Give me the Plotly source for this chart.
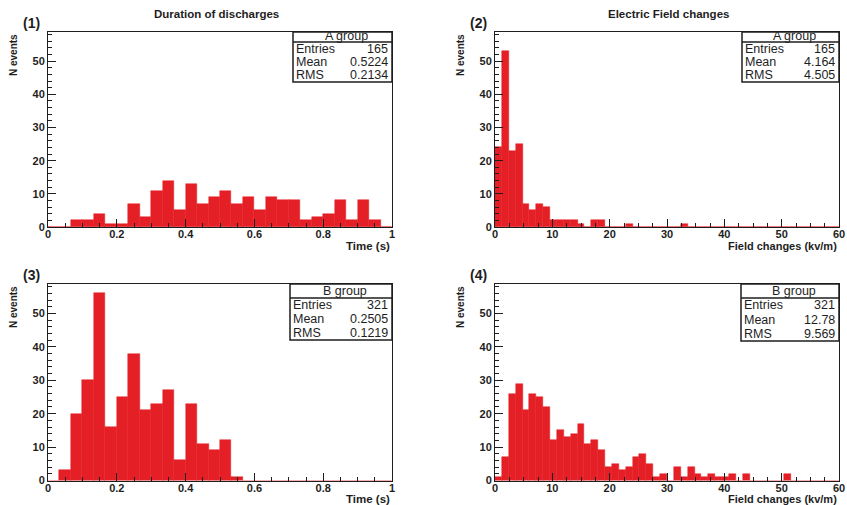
import plotly.graph_objects as go

# ---------------- data ----------------
time_lo, time_hi, time_nbins = 0.0, 1.0, 30
field_lo, field_hi, field_nbins = 0.0, 60.0, 50

duration_A = [0, 0, 2, 2, 4, 1, 1, 7, 3, 11, 14, 5, 13, 7, 9, 11, 7, 9, 5, 9,
              8, 8, 2, 3, 4, 8, 2, 8, 2, 0]
duration_B = [0, 3, 20, 30, 56, 16, 25, 38, 21, 23, 27, 6, 23, 11, 9, 12, 1, 0, 0, 0,
              0, 0, 0, 0, 0, 0, 0, 0, 0, 0]
field_A = [24, 53, 23, 25, 7, 5, 7, 6, 2, 2, 2, 2, 1, 0, 2, 2, 0, 0, 0, 1,
           0, 0, 0, 0, 0, 0, 0, 1, 0, 0, 0, 0, 0, 0, 0, 0, 0, 0, 0, 0,
           0, 0, 0, 0, 0, 0, 0, 0, 0, 0]
field_B = [1, 7, 26, 29, 21, 26, 25, 22, 12, 15, 13, 14, 17, 11, 12, 9, 4, 5, 3, 4,
           7, 8, 5, 1, 2, 0, 4, 1, 4, 2, 1, 2, 1, 1, 2, 0, 2, 0, 0, 0,
           0, 0, 2, 0, 0, 0, 0, 0, 0, 0]

stats_groups = ["A group", "A group", "B group", "B group"]
stats_entries = ["165", "165", "321", "321"]
stats_mean = ["0.5224", "4.164", "0.2505", "12.78"]
stats_rms = ["0.2134", "4.505", "0.1219", "9.569"]
panel_labels = ["(1)", "(2)", "(3)", "(4)"]
col_titles = ["Duration of discharges", "Electric Field changes"]
x_titles = ["Time (s)", "Field changes (kv/m)"]
y_title = "N events"
y_max = 58.8

# ---------------- layout helpers ----------------
W, H = 847, 505
RED = "#e41f26"
INK = "#1e1e1e"
FONT = "Liberation Sans"


def px(x):
    return x / W


def py(y):
    return 1 - y / H


# plot area pixel boxes: (left, right, top, bottom)
boxes = [(48, 392, 32, 227), (495, 839, 32, 227),
         (48, 392, 284, 480.5), (495, 839, 284, 480.5)]
# stats boxes: (left, right, top, header_line, bottom)
sboxes = [(293, 392, 32, 42, 82), (742, 839, 32, 42, 82),
          (290, 392, 284, 298, 340), (741, 839, 284, 298, 341)]

panels = [
    (duration_A, time_lo, time_hi, time_nbins, 0.2, 0.05),
    (field_A, field_lo, field_hi, field_nbins, 10, 2.5),
    (duration_B, time_lo, time_hi, time_nbins, 0.2, 0.05),
    (field_B, field_lo, field_hi, field_nbins, 10, 2.5),
]

fig = go.Figure()
layout = dict(
    width=W, height=H, margin=dict(l=0, r=0, t=0, b=0, autoexpand=False),
    paper_bgcolor="white", plot_bgcolor="white", showlegend=False,
    font=dict(family=FONT, color=INK),
)
annotations = []
shapes = []

for k, (counts, lo, hi, nb, dt, mdt) in enumerate(panels):
    bw = (hi - lo) / nb
    centers = [lo + (i + 0.5) * bw for i in range(nb)]
    sfx = "" if k == 0 else str(k + 1)
    fig.add_trace(go.Bar(
        x=centers, y=counts, width=bw,
        marker=dict(color=RED, line=dict(color=RED, width=0.5)),
        xaxis="x" + sfx, yaxis="y" + sfx, hoverinfo="x+y",
    ))
    l, r, t, b = boxes[k]
    tickfont = dict(family=FONT, size=11, color=INK, weight="bold")
    common = dict(
        showline=True, mirror=True, linecolor=INK, linewidth=1,
        ticks="inside", ticklen=8, tickcolor=INK, tickwidth=1,
        showgrid=False, zeroline=False, automargin=False,
        tickfont=tickfont, layer="above traces",
    )
    layout["xaxis" + sfx] = dict(
        domain=[px(l), px(r)], anchor="y" + sfx, range=[lo, hi],
        dtick=dt, tick0=lo, ticklabelstandoff=-3,
        minor=dict(dtick=mdt, ticks="inside", ticklen=4, tickcolor=INK, showgrid=False),
        **common,
    )
    layout["yaxis" + sfx] = dict(
        domain=[py(b), py(t)], anchor="x" + sfx, range=[0, y_max],
        dtick=10, tick0=0, ticklabelstandoff=0,
        minor=dict(dtick=2, ticks="inside", ticklen=4, tickcolor=INK, showgrid=False),
        **common,
    )

    col = k % 2
    # panel label
    annotations.append(dict(
        x=px(l - 27), y=py(t - 9), xref="paper", yref="paper",
        text=panel_labels[k], showarrow=False, xanchor="left", yanchor="middle",
        font=dict(family=FONT, size=14, color=INK, weight="bold"),
    ))
    # y title
    annotations.append(dict(
        x=px(l - 35), y=py(t), xref="paper", yref="paper", text=y_title,
        textangle=-90, showarrow=False, xanchor="center", yanchor="top",
        font=dict(family=FONT, size=10, color=INK, weight="bold"),
    ))
    # x title
    annotations.append(dict(
        x=px(r), y=py(b + 18.5), xref="paper", yref="paper", text=x_titles[col],
        showarrow=False, xanchor="right", yanchor="middle",
        font=dict(family=FONT, size=11.5 if col == 0 else 11, color=INK, weight="bold"),
    ))
    # stats box
    sl, sr, st, sh, sb = sboxes[k]
    shapes.append(dict(type="rect", xref="paper", yref="paper",
                       x0=px(sl), x1=px(sr), y0=py(sb), y1=py(st),
                       line=dict(color=INK, width=1.5), fillcolor="white", layer="above"))
    shapes.append(dict(type="line", xref="paper", yref="paper",
                       x0=px(sl), x1=px(sr), y0=py(sh), y1=py(sh),
                       line=dict(color=INK, width=1.5), layer="above"))
    sfont = dict(family=FONT, size=12.5, color=INK)
    annotations.append(dict(
        x=px((sl + sr) / 2 + 4), y=py((st + sh) / 2 - 0.5), xref="paper", yref="paper",
        text=stats_groups[k], showarrow=False, xanchor="center", yanchor="middle",
        font=sfont,
    ))
    row_h = (sb - sh) / 3
    for j, (lab, val) in enumerate([("Entries", stats_entries[k]),
                                    ("Mean", stats_mean[k]),
                                    ("RMS", stats_rms[k])]):
        yc = sh + row_h * (j + 0.5)
        annotations.append(dict(
            x=px(sl + 1), y=py(yc), xref="paper", yref="paper", text=lab,
            showarrow=False, xanchor="left", yanchor="middle", font=sfont,
        ))
        annotations.append(dict(
            x=px(sr - 2), y=py(yc), xref="paper", yref="paper", text=val,
            showarrow=False, xanchor="right", yanchor="middle", font=sfont,
        ))

# column titles
for col, cx in enumerate([216, 668]):
    annotations.append(dict(
        x=px(cx), y=py(14), xref="paper", yref="paper", text=col_titles[col],
        showarrow=False, xanchor="center", yanchor="middle",
        font=dict(family=FONT, size=11.5, color=INK, weight="bold"),
    ))

layout["annotations"] = annotations
layout["shapes"] = shapes
layout["bargap"] = 0
fig.update_layout(**layout)
fig.write_html("out.html", config={"displayModeBar": False})

# remove the default page margin so the figure sits at the window's top-left
with open("out.html", "r", encoding="utf-8") as f:
    html = f.read()
html = html.replace("<head>", "<head><style>html,body{margin:0;padding:0;overflow:hidden}</style>", 1)
with open("out.html", "w", encoding="utf-8") as f:
    f.write(html)
